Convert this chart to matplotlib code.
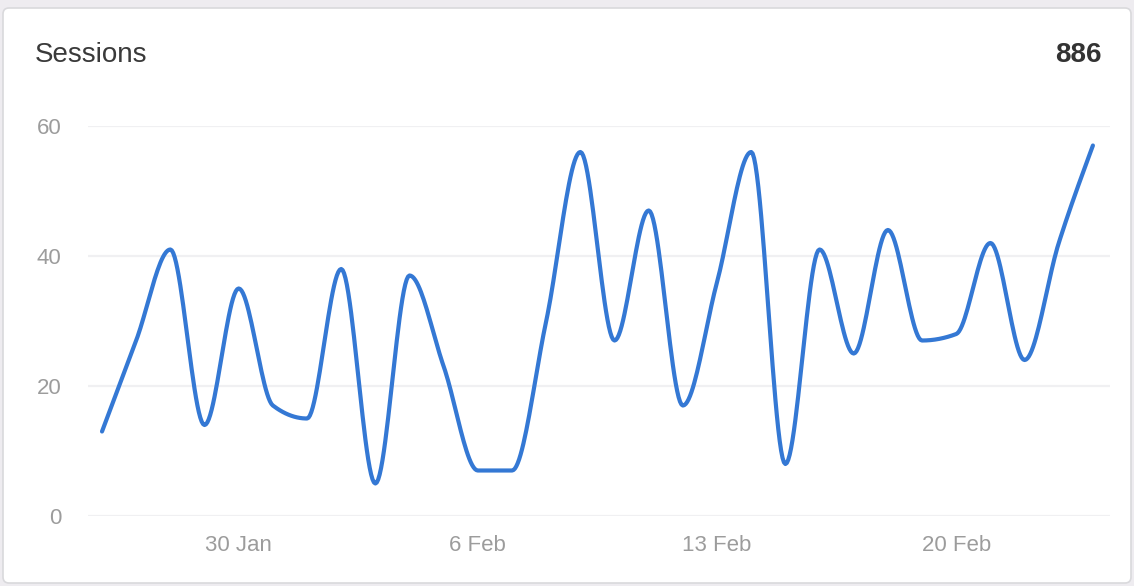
import numpy as np
import matplotlib
matplotlib.use("Agg")
import matplotlib.pyplot as plt
from matplotlib.patches import FancyBboxPatch

plt.rcParams['font.family'] = ['Liberation Sans', 'DejaVu Sans']

# daily sessions, 26 Jan .. 24 Feb (total 886)
days = ['26 Jan', '27 Jan', '28 Jan', '29 Jan', '30 Jan', '31 Jan', '1 Feb', '2 Feb',
        '3 Feb', '4 Feb', '5 Feb', '6 Feb', '7 Feb', '8 Feb', '9 Feb', '10 Feb',
        '11 Feb', '12 Feb', '13 Feb', '14 Feb', '15 Feb', '16 Feb', '17 Feb', '18 Feb',
        '19 Feb', '20 Feb', '21 Feb', '22 Feb', '23 Feb', '24 Feb']
sessions = [13, 27, 41, 14, 35, 17, 15, 38, 5, 37, 23, 7, 7, 30, 56,
            27, 47, 17, 36, 56, 8, 41, 25, 44, 27, 28, 42, 24, 42, 57]
x_ticks = ['30 Jan', '6 Feb', '13 Feb', '20 Feb']
y_ticks = [0, 20, 40, 60]
title = 'Sessions'
total = sum(sessions)


def monotone_curve(y, n=24):
    # monotone cubic (same idea as d3 curveMonotoneX), unit spacing
    y = np.asarray(y, float)
    d = np.diff(y)
    t = np.zeros_like(y)
    for i in range(1, len(y) - 1):
        s0, s1 = d[i - 1], d[i]
        p = (s0 + s1) / 2
        sg = (-1 if s0 < 0 else 1) + (-1 if s1 < 0 else 1)
        t[i] = sg * min(abs(s0), abs(s1), 0.5 * abs(p))
    t[0] = (3 * d[0] - t[1]) / 2
    t[-1] = (3 * d[-1] - t[-2]) / 2
    u = np.linspace(0, 1, n, endpoint=False)
    h00 = 2 * u**3 - 3 * u**2 + 1
    h10 = u**3 - 2 * u**2 + u
    h01 = -2 * u**3 + 3 * u**2
    h11 = u**3 - u**2
    xs, ys = [], []
    for i in range(len(d)):
        xs.append(i + u)
        ys.append(h00 * y[i] + h10 * t[i] + h01 * y[i + 1] + h11 * t[i + 1])
    xs.append([len(y) - 1])
    ys.append([y[-1]])
    return np.concatenate(xs), np.concatenate(ys)


W, H = 1134, 586
fig = plt.figure(figsize=(W / 100, H / 100), dpi=100)
fig.patch.set_facecolor('#eeecf0')

# card background in pixel coords
bg = fig.add_axes([0, 0, 1, 1])
bg.set_xlim(0, W)
bg.set_ylim(H, 0)
bg.axis('off')
card = FancyBboxPatch((3, 8), W - 6, H - 11, boxstyle='round,pad=0,rounding_size=6',
                      facecolor='white', edgecolor='#d9d9dc', linewidth=1.2)
bg.add_patch(card)
bg.text(35, 55, title, fontsize=20, color='#3a3a3a', ha='left', va='center')
bg.text(1102, 55, str(total), fontsize=20, fontweight='bold', color='#333333',
        ha='right', va='center')

ax = fig.add_axes([88 / W, 70 / H, (1110 - 88) / W, 390 / H])
ax.set_facecolor('none')
cx, cy = monotone_curve(sessions)
ax.plot(cx, cy, color='#3478d4', linewidth=3.0, solid_capstyle='round', zorder=3)

ax.set_xlim(-0.41, 29.5)
ax.set_ylim(0, 60)
ax.set_yticks(y_ticks)
ax.set_xticks([days.index(d) for d in x_ticks])
ax.set_xticklabels(x_ticks)
ax.grid(axis='y', color='#f0f0f2', linewidth=1.6)
ax.set_axisbelow(True)
for s in ax.spines.values():
    s.set_visible(False)
ax.tick_params(axis='both', length=0, labelsize=16, labelcolor='#9c9c9c')
ax.tick_params(axis='y', pad=19)
ax.tick_params(axis='x', pad=14)

fig.savefig('out.png', dpi=100, facecolor=fig.get_facecolor())
